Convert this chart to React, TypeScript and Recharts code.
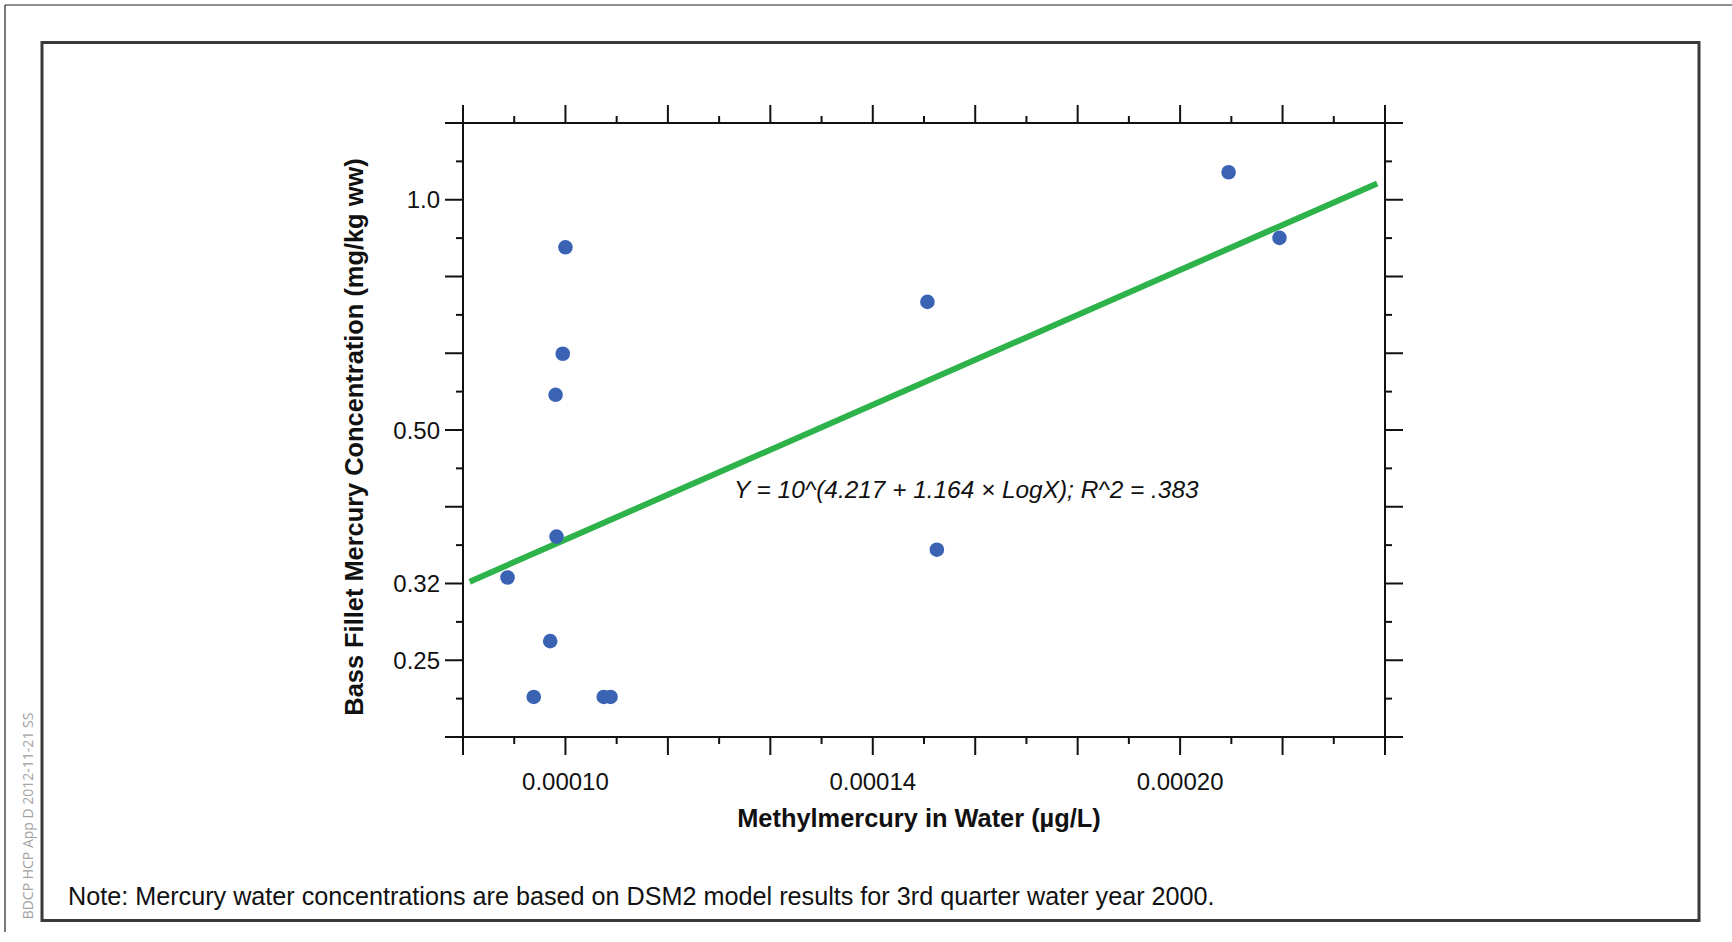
import React from "react";
import { ScatterChart, Scatter, XAxis, YAxis } from "recharts";

// MeHg in water (µg/L) vs bass fillet Hg (mg/kg ww)
const waterMeHg = [
  0.0001, 0.0000997, 0.0000989, 0.000099, 0.0000937, 0.0000983, 0.0000965,
  0.0001044, 0.0001052, 0.0001502, 0.0002107, 0.0002231, 0.0001518,
];
const bassHg = [
  0.867, 0.63, 0.557, 0.364, 0.322, 0.266, 0.225,
  0.225, 0.225, 0.736, 1.086, 0.892, 0.35,
];

// fitted line end points: Y = 10^(4.217 + 1.164 × LogX)
const fitX = [0.0000898, 0.000249];
const fitY = [0.318, 1.05];

// log10 tick positions (major every other entry)
const xTickExps = [
  -4.05, -4.025, -4.0, -3.975, -3.95, -3.925, -3.9, -3.875, -3.85, -3.825,
  -3.8, -3.775, -3.75, -3.725, -3.7, -3.675, -3.65, -3.625, -3.6,
];
const yTickExps = [
  -0.7, -0.65, -0.6, -0.55, -0.5, -0.45, -0.4, -0.35, -0.3, -0.25,
  -0.2, -0.15, -0.1, -0.05, 0, 0.05, 0.1,
];
const xLabelExps = [-4.0, -3.85, -3.7];
const xLabelText = ["0.00010", "0.00014", "0.00020"];
const yLabelExps = [0, -0.3, -0.5, -0.6];
const yLabelText = ["1.0", "0.50", "0.32", "0.25"];

const FONT = "'Liberation Sans', Arial, sans-serif";
const INK = "#111";
const MAJOR = 18;
const MINOR = 7;

const pts = waterMeHg.map((x, i) => ({ x, y: bassHg[i] }));
const fit = fitX.map((x, i) => ({ x, y: fitY[i] }));
const xTicks = xTickExps.map((e) => Math.pow(10, e));
const yTicks = yTickExps.map((e) => Math.pow(10, e));
const xDomain = [xTicks[0], xTicks[xTicks.length - 1]];
const yDomain = [yTicks[0], yTicks[yTicks.length - 1]];

const idxOf = (list: number[], v: number) =>
  list.findIndex((e) => Math.abs(e - Math.log10(v)) < 1e-6);

const tickText = { fontFamily: FONT, fontSize: 24, fill: INK };

const BottomTick = ({ x, y, payload }: any) => {
  const len = idxOf(xTickExps, payload.value) % 2 === 0 ? MAJOR : MINOR;
  const li = idxOf(xLabelExps, payload.value);
  return (
    <g>
      <line x1={x} x2={x} y1={y} y2={y + len} stroke={INK} strokeWidth={2} />
      {li >= 0 && (
        <text x={x} y={y + 53} textAnchor="middle" {...tickText}>
          {xLabelText[li]}
        </text>
      )}
    </g>
  );
};

const TopTick = ({ x, y, payload }: any) => {
  const len = idxOf(xTickExps, payload.value) % 2 === 0 ? MAJOR : MINOR;
  return <line x1={x} x2={x} y1={y} y2={y - len} stroke={INK} strokeWidth={2} />;
};

const LeftTick = ({ x, y, payload }: any) => {
  const len = idxOf(yTickExps, payload.value) % 2 === 0 ? MAJOR : MINOR;
  const li = idxOf(yLabelExps, payload.value);
  return (
    <g>
      <line x1={x} x2={x - len} y1={y} y2={y} stroke={INK} strokeWidth={2} />
      {li >= 0 && (
        <text x={x - 23} y={y + 8.5} textAnchor="end" {...tickText}>
          {yLabelText[li]}
        </text>
      )}
    </g>
  );
};

const RightTick = ({ x, y, payload }: any) => {
  const len = idxOf(yTickExps, payload.value) % 2 === 0 ? MAJOR : MINOR;
  return <line x1={x} x2={x + len} y1={y} y2={y} stroke={INK} strokeWidth={2} />;
};

const Dot = ({ cx, cy }: any) => <circle cx={cx} cy={cy} r={7.3} fill="#3a63b4" />;

export default function App() {
  const axisLine = { stroke: INK, strokeWidth: 2 };
  return (
    <div style={{ position: "absolute", left: 0, top: 0, width: 1732, height: 942, background: "#fff" }}>
      <ScatterChart
        width={1732}
        height={942}
        margin={{ top: 103, right: 327, bottom: 165, left: 403 }}
      >
        <XAxis
          xAxisId="bottom"
          type="number"
          dataKey="x"
          scale="log"
          domain={xDomain}
          allowDataOverflow
          ticks={xTicks}
          interval={0}
          tickSize={0}
          tickMargin={0}
          tickLine={false}
          axisLine={axisLine}
          tick={<BottomTick />}
          height={40}
        />
        <XAxis
          xAxisId="top"
          orientation="top"
          type="number"
          dataKey="x"
          scale="log"
          domain={xDomain}
          allowDataOverflow
          ticks={xTicks}
          interval={0}
          tickSize={0}
          tickMargin={0}
          tickLine={false}
          axisLine={axisLine}
          tick={<TopTick />}
          height={20}
        />
        <YAxis
          yAxisId="left"
          type="number"
          dataKey="y"
          scale="log"
          domain={yDomain}
          allowDataOverflow
          ticks={yTicks}
          interval={0}
          tickSize={0}
          tickMargin={0}
          tickLine={false}
          axisLine={axisLine}
          tick={<LeftTick />}
          width={60}
        />
        <YAxis
          yAxisId="right"
          orientation="right"
          type="number"
          dataKey="y"
          scale="log"
          domain={yDomain}
          allowDataOverflow
          ticks={yTicks}
          interval={0}
          tickSize={0}
          tickMargin={0}
          tickLine={false}
          axisLine={axisLine}
          tick={<RightTick />}
          width={20}
        />
        {/* regression line, drawn under the points */}
        <Scatter
          xAxisId="top"
          yAxisId="right"
          data={fit}
          line={{ stroke: "#2eb34b", strokeWidth: 6 }}
          shape={() => <g />}
          isAnimationActive={false}
        />
        <Scatter
          xAxisId="bottom"
          yAxisId="left"
          data={pts}
          shape={<Dot />}
          isAnimationActive={false}
        />
      </ScatterChart>

      <svg
        width={1732}
        height={942}
        style={{ position: "absolute", left: 0, top: 0, pointerEvents: "none" }}
      >
        {/* page rule + figure frame */}
        <line x1={5} x2={1732} y1={5} y2={5} stroke="#222" strokeWidth={1.2} />
        <line x1={5} x2={5} y1={5} y2={932} stroke="#222" strokeWidth={1.2} />
        <rect x={42} y={42.5} width={1657} height={878} fill="none" stroke="#3a3a3a" strokeWidth={3} />

        <text x={734} y={498} fontFamily={FONT} fontSize={24.4} fontStyle="italic" fill={INK}>
          Y = 10^(4.217 + 1.164 × LogX); R^2 = .383
        </text>

        <text x={919} y={827} textAnchor="middle" fontFamily={FONT} fontSize={25.4} fontWeight="bold" fill={INK}>
          Methylmercury in Water (µg/L)
        </text>
        <text
          transform="translate(363,437) rotate(-90)"
          textAnchor="middle"
          fontFamily={FONT}
          fontSize={25.4}
          fontWeight="bold"
          fill={INK}
        >
          Bass Fillet Mercury Concentration (mg/kg ww)
        </text>

        <text x={68} y={905} fontFamily={FONT} fontSize={25.2} fill={INK}>
          Note: Mercury water concentrations are based on DSM2 model results for 3rd quarter water year 2000.
        </text>

        <text
          transform="translate(33,816) rotate(-90)"
          textAnchor="middle"
          fontFamily="'Open Sans', 'Noto Sans', sans-serif"
          fontSize={14}
          fill="#a3a3a3"
        >
          BDCP HCP App D 2012-11-21 SS
        </text>
      </svg>
    </div>
  );
}
